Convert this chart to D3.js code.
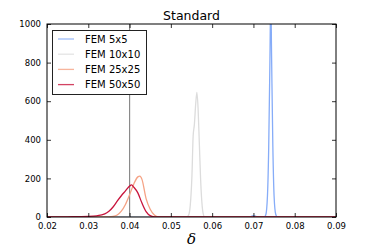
<!DOCTYPE html>
<html>
<head>
<meta charset="utf-8">
<script src="https://cdn.jsdelivr.net/npm/d3@7"></script>
<style>
  body { margin: 0; background: #fff; }
  svg { display: block; }
  text { font-family: "DejaVu Sans", sans-serif; }
</style>
</head>
<body>
<svg id="chart" width="374" height="249"></svg>
<script>
const width = 374;
const height = 249;
const margin = {top: 24, right: 38, bottom: 32, left: 47};

// Series: [delta, density] pairs.
const fem5 = [
  [0.020, 0], [0.0690, 0], [0.0700, 7], [0.0705, 5], [0.0710, 0],
  [0.0726, 0], [0.0730, 12], [0.0734, 110], [0.0737, 360], [0.0740, 820],
  [0.0742, 1150], [0.0744, 830], [0.0747, 370], [0.0750, 110],
  [0.0754, 14], [0.0758, 0], [0.090, 0],
];
const fem10 = [
  [0.020, 0], [0.0538, 0], [0.0543, 10], [0.0547, 60], [0.0551, 210],
  [0.0554, 420], [0.0557, 480], [0.0560, 580], [0.0563, 645],
  [0.0566, 560], [0.0569, 380], [0.0572, 200], [0.0575, 80],
  [0.0578, 20], [0.0582, 0], [0.090, 0],
];
const fem25 = [
  [0.020, 0], [0.034, 0], [0.036, 3], [0.037, 10], [0.038, 30],
  [0.039, 65], [0.040, 115], [0.041, 170], [0.042, 208], [0.0425, 212],
  [0.043, 195], [0.044, 95], [0.045, 40], [0.046, 10], [0.047, 0],
  [0.090, 0],
];
const fem50 = [
  [0.020, 0], [0.025, 1], [0.030, 3], [0.032, 6], [0.034, 16],
  [0.035, 30], [0.036, 52], [0.037, 82], [0.038, 110], [0.039, 135],
  [0.040, 160], [0.0405, 166], [0.041, 155], [0.042, 125], [0.043, 72],
  [0.044, 28], [0.045, 7], [0.046, 1], [0.047, 0], [0.090, 0],
];

const seriesNames = ['FEM 5x5', 'FEM 10x10', 'FEM 25x25', 'FEM 50x50'];
const seriesData = [fem5, fem10, fem25, fem50];
const colors = ['#86acf8', '#dcdcdc', '#f5a385', '#c8143c'];

const xTicks = [0.02, 0.03, 0.04, 0.05, 0.06, 0.07, 0.08, 0.09];
const yTicks = [0, 200, 400, 600, 800, 1000];
const refLine = 0.04;

const svg = d3.select('#chart');

const x = d3.scaleLinear()
  .domain([0.02, 0.09])
  .range([margin.left, width - margin.right]);
const y = d3.scaleLinear()
  .domain([0, 1000])
  .range([height - margin.bottom, margin.top]);

// Clip curves to the axes box
svg.append('clipPath')
  .attr('id', 'plot-clip')
  .append('rect')
  .attr('x', margin.left)
  .attr('y', margin.top)
  .attr('width', width - margin.left - margin.right)
  .attr('height', height - margin.top - margin.bottom);

const plot = svg.append('g').attr('clip-path', 'url(#plot-clip)');

// Reference vertical line
plot.append('line')
  .attr('x1', x(refLine)).attr('x2', x(refLine))
  .attr('y1', margin.top).attr('y2', height - margin.bottom)
  .attr('stroke', '#8a8a8a')
  .attr('stroke-width', 1.2);

const line = d3.line()
  .x((d) => x(d[0]))
  .y((d) => y(d[1]))
  .curve(d3.curveMonotoneX);

seriesData.forEach((data, i) => {
  plot.append('path')
    .datum(data)
    .attr('fill', 'none')
    .attr('stroke', colors[i])
    .attr('stroke-width', 1.3)
    .attr('d', line);
});

// Axes: inward ticks on all four sides
const xAxisBottom = d3.axisBottom(x).tickValues(xTicks)
  .tickSizeInner(-4).tickSizeOuter(0).tickPadding(6)
  .tickFormat(d3.format('.2f'));
const xAxisTop = d3.axisTop(x).tickValues(xTicks)
  .tickSizeInner(-4).tickSizeOuter(0).tickFormat('');
const yAxisLeft = d3.axisLeft(y).tickValues(yTicks)
  .tickSizeInner(-4).tickSizeOuter(0).tickPadding(6)
  .tickFormat(d3.format('d'));
const yAxisRight = d3.axisRight(y).tickValues(yTicks)
  .tickSizeInner(-4).tickSizeOuter(0).tickFormat('');

function styleAxis(g) {
  g.select('.domain').remove();
  g.selectAll('.tick line').attr('stroke', '#000').attr('stroke-width', 0.8);
  g.selectAll('.tick text')
    .attr('fill', '#000')
    .style('font-size', '8.5px')
    .style('font-family', '"DejaVu Sans", sans-serif');
}

svg.append('g')
  .attr('transform', `translate(0,${height - margin.bottom})`)
  .call(xAxisBottom).call(styleAxis);
svg.append('g')
  .attr('transform', `translate(0,${margin.top})`)
  .call(xAxisTop).call(styleAxis);
svg.append('g')
  .attr('transform', `translate(${margin.left},0)`)
  .call(yAxisLeft).call(styleAxis);
svg.append('g')
  .attr('transform', `translate(${width - margin.right},0)`)
  .call(yAxisRight).call(styleAxis);

// Frame
svg.append('rect')
  .attr('x', margin.left)
  .attr('y', margin.top)
  .attr('width', width - margin.left - margin.right)
  .attr('height', height - margin.top - margin.bottom)
  .attr('fill', 'none')
  .attr('stroke', '#000')
  .attr('stroke-width', 1);

// Title
svg.append('text')
  .attr('x', (margin.left + width - margin.right) / 2)
  .attr('y', 20)
  .attr('text-anchor', 'middle')
  .style('font-size', '12.5px')
  .text('Standard');

// x label
svg.append('text')
  .attr('x', (margin.left + width - margin.right) / 2)
  .attr('y', 244)
  .attr('text-anchor', 'middle')
  .style('font-family', '"DejaVu Serif", serif')
  .style('font-style', 'italic')
  .style('font-size', '15px')
  .text('δ');

// Legend
const legend = svg.append('g').attr('transform', 'translate(52,30)');
legend.append('rect')
  .attr('x', 0.5).attr('y', 0.5)
  .attr('width', 94).attr('height', 64)
  .attr('fill', '#fff')
  .attr('stroke', '#222')
  .attr('stroke-width', 1);

seriesNames.forEach((name, i) => {
  const row = legend.append('g').attr('transform', `translate(0,${9 + i * 15.2})`);
  row.append('line')
    .attr('x1', 6).attr('x2', 22)
    .attr('y1', 0).attr('y2', 0)
    .attr('stroke', colors[i])
    .attr('stroke-opacity', 0.8)
    .attr('stroke-width', 1.3);
  row.append('text')
    .attr('x', 33)
    .attr('y', 3.6)
    .style('font-size', '10px')
    .text(name);
});
</script>
</body>
</html>
